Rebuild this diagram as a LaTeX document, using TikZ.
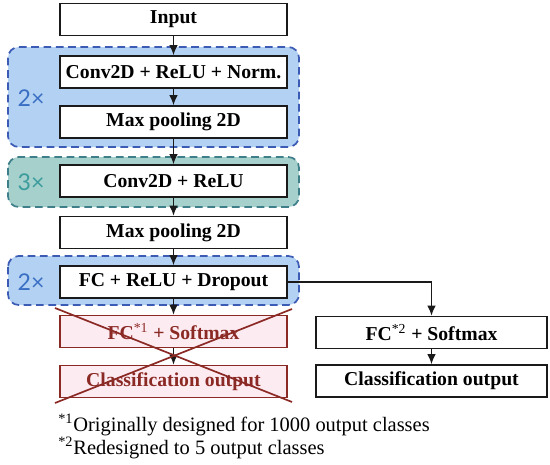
\documentclass[tikz,border=0pt]{standalone}
\usepackage{fontspec}
\setmainfont{Liberation Serif}
\newfontfamily\repfont{Lato}
\usepackage{tikz}
\usetikzlibrary{arrows.meta, positioning, calc}
\definecolor{Ink}{HTML}{1A1A1A}
\definecolor{BlueFill}{HTML}{B3D1F2}
\definecolor{BlueEdge}{HTML}{3B5BB5}
\definecolor{BlueText}{HTML}{3A6FC4}
\definecolor{TealFill}{HTML}{A5D0CC}
\definecolor{TealEdge}{HTML}{3E7F8A}
\definecolor{TealText}{HTML}{3C9C9C}
\definecolor{Cross}{HTML}{8B2A25}
\definecolor{Pink}{HTML}{FDEBF2}

\begin{document}
\begin{tikzpicture}[
        x=0.65pt, y=-0.65pt,
        layer/.style={draw=Ink, line width=1.1pt, fill=white, minimum width=147.5pt, minimum height=20.8pt, inner sep=0pt, font=\fontsize{12.8}{15}\selectfont\bfseries},
        newlayer/.style={layer, minimum width=150pt},
        oldlayer/.style={layer, draw=Cross, fill=Pink, text=Cross},
        blueblock/.style={draw=BlueEdge, fill=BlueFill, line width=1.1pt, dash pattern=on 5pt off 3pt, rounded corners=7pt},
        tealblock/.style={draw=TealEdge, fill=TealFill, line width=1.1pt, dash pattern=on 5pt off 3pt, rounded corners=7pt},
        rep/.style={font=\fontsize{15}{17}\selectfont\repfont},
        arr/.style={-{Latex[length=2.3mm, width=2mm]}, line width=0.9pt, color=Ink},
        strike/.style={line width=1.1pt, color=Cross},
        note/.style={anchor=west, inner sep=0pt, font=\fontsize{13.3}{15}\selectfont}
      ]
        \useasboundingbox (0,0) rectangle (550,464);

        % repeated blocks behind the layers
        \draw[blueblock] (8,47) rectangle (299,147);
        \draw[tealblock] (8,157) rectangle (299,207);
        \draw[blueblock] (8,256) rectangle (299,305);
        \node[rep, text=BlueText] (rep1) at (31,98) {2×};
        \node[rep, text=TealText] (rep2) at (31,182) {3×};
        \node[rep, text=BlueText] (rep3) at (31,282) {2×};

        \node[layer] (inp) at (173.5,19.5) {Input};
        \node[layer] (conv1) at (173.5,72) {Conv2D + ReLU + Norm.};
        \node[layer] (pool1) at (173.5,122) {Max pooling 2D};
        \node[layer] (conv2) at (173.5,181) {Conv2D + ReLU};
        \node[layer] (pool2) at (173.5,232.5) {Max pooling 2D};
        \node[layer] (fc) at (173.5,282) {FC + ReLU + Dropout};
        \node[oldlayer] (fcold) at (173.5,331.5) {FC{\mdseries\textsuperscript{*1}} + Softmax};
        \node[oldlayer] (outold) at (173.5,381.5) {Classification output};

        \node[newlayer] (fcnew) at (431.5,332.5) {FC{\mdseries\textsuperscript{*2}} + Softmax};
        \node[newlayer] (outnew) at (431.5,381) {Classification output};

        \draw[arr] (inp.south) -- (conv1.north);
        \draw[arr] (conv1.south) -- (pool1.north);
        \draw[arr] (pool1.south) -- (conv2.north);
        \draw[arr] (conv2.south) -- (pool2.north);
        \draw[arr] (pool2.south) -- (fc.north);
        \draw[arr] (fc.south) -- (fcold.north);
        \draw[arr] (fcold.south) -- (outold.north);
        \draw[arr] (fc.east) -| (fcnew.north);
        \draw[arr] (fcnew.south) -- (outnew.north);

        % crossed-out original head
        \coordinate (xa) at (55,308);
        \coordinate (xb) at (292,402);
        \coordinate (xc) at (55,403);
        \coordinate (xd) at (292,309);
        \draw[strike] (xa) -- (xb);
        \draw[strike] (xc) -- (xd);

        \node[note] (note1) at (58,425) {\textsuperscript{*1}Originally designed for 1000 output classes};
        \node[note] (note2) at (58,448) {\textsuperscript{*2}Redesigned to 5 output classes};
      \end{tikzpicture}
\end{document}
